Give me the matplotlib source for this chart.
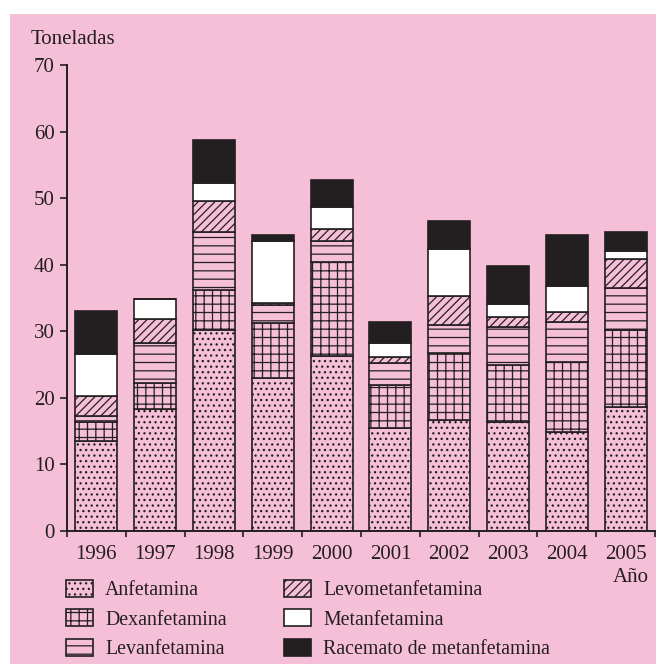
import numpy as np
import matplotlib.pyplot as plt
from matplotlib.patches import Rectangle

# -------------------- Data ----------------------- #
years = ['1996', '1997', '1998', '1999', '2000', '2001', '2002', '2003', '2004', '2005']
anfetamina     = [13.5, 18.3, 30.2, 23.0, 26.3, 15.5, 16.7, 16.3, 14.8, 18.7]
dexanfetamina  = [2.8, 4.0, 6.0, 8.3, 14.1, 6.4, 10.0, 8.7, 10.6, 11.5]
levanfetamina  = [0.9, 6.0, 8.7, 2.6, 3.2, 3.4, 4.2, 5.6, 6.0, 6.3]
levometanfet   = [3.1, 3.5, 4.7, 0.3, 1.7, 0.9, 4.4, 1.6, 1.5, 4.4]
metanfetamina  = [6.3, 3.1, 2.7, 9.4, 3.4, 2.0, 7.1, 1.9, 3.9, 1.1]
racemato       = [6.5, 0.0, 6.4, 0.8, 4.1, 3.2, 4.1, 5.7, 7.7, 2.9]

series = [
    ('Anfetamina', anfetamina),
    ('Dexanfetamina', dexanfetamina),
    ('Levanfetamina', levanfetamina),
    ('Levometanfetamina', levometanfet),
    ('Metanfetamina', metanfetamina),
    ('Racemato de metanfetamina', racemato),
]

# -------------------- Style ----------------------- #
PINK = '#f6bfd8'
DARK = '#231f20'
styles = {
    'Anfetamina':                dict(facecolor=PINK, hatch='...'),
    'Dexanfetamina':             dict(facecolor=PINK, hatch='++'),
    'Levanfetamina':             dict(facecolor=PINK, hatch='--'),
    'Levometanfetamina':         dict(facecolor=PINK, hatch='////'),
    'Metanfetamina':             dict(facecolor='white', hatch=None),
    'Racemato de metanfetamina': dict(facecolor=DARK, hatch=None),
}

plt.rcParams['font.family'] = ['Liberation Serif', 'DejaVu Serif']
plt.rcParams['hatch.linewidth'] = 0.9
plt.rcParams['hatch.color'] = DARK
plt.rcParams['text.color'] = DARK

W, H = 656, 664
fig = plt.figure(figsize=(W / 100, H / 100), dpi=100, facecolor='white')

# pink panel behind everything
fig.patches.append(Rectangle((10 / W, 0), 1 - 10 / W, 1 - 14 / H,
                             transform=fig.transFigure, facecolor=PINK,
                             edgecolor='none', zorder=-10))

ax = fig.add_axes([67 / W, 133 / H, 588 / W, 466 / H])
ax.set_facecolor('none')

x = np.arange(len(years))
bottom = np.zeros(len(years))
for name, vals in series:
    st = styles[name]
    ax.bar(x, vals, width=0.714, bottom=bottom, label=name,
           facecolor=st['facecolor'], hatch=st['hatch'],
           edgecolor=DARK, linewidth=1.2, zorder=2)
    bottom += np.array(vals)

ax.set_xlim(-0.5, 9.5)
ax.set_ylim(0, 70)
ax.set_yticks(range(0, 71, 10))
ax.set_xticks(x)
ax.set_xticklabels(years)
ax.set_xticks(np.arange(-0.5, 10, 1), minor=True)
ax.tick_params(axis='x', which='major', length=0, pad=10, labelsize=15, labelcolor=DARK)
ax.tick_params(axis='x', which='minor', length=4.5, width=1.2, color=DARK, direction='out')
ax.tick_params(axis='y', length=5, width=1.2, color=DARK, pad=4, labelsize=15, labelcolor=DARK)

for s in ['top', 'right']:
    ax.spines[s].set_visible(False)
for s in ['left', 'bottom']:
    ax.spines[s].set_linewidth(1.4)
    ax.spines[s].set_color(DARK)

fig.text(31 / W, 1 - 39 / H, 'Toneladas', fontsize=15, ha='left', va='center')
fig.text(649 / W, 1 - 577 / H, 'Año', fontsize=15, ha='right', va='center')

# legend
handles, labels = ax.get_legend_handles_labels()
leg = fig.legend(handles, labels,
                 ncol=2, loc='upper left', bbox_to_anchor=(66 / W, 1 - 580 / H),
                 frameon=False, fontsize=14.3, handlelength=1.36, handleheight=0.95,
                 handletextpad=0.6, columnspacing=2.9, labelspacing=0.45,
                 borderpad=0, borderaxespad=0)

plt.savefig('out.png', dpi=100, facecolor='white')
